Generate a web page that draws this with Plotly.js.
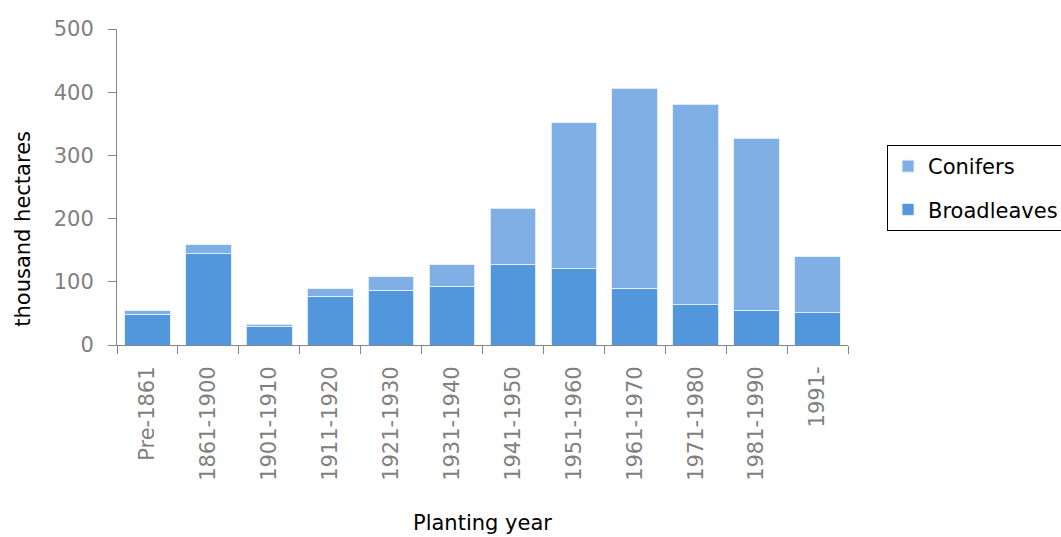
<!DOCTYPE html>
<html>
<head>
<meta charset="utf-8">
<script src="https://cdn.plot.ly/plotly-3.0.1.min.js"></script>
<style>
  html, body { margin: 0; padding: 0; background: #fff; }
  #chart { width: 1061px; height: 537px; }
</style>
</head>
<body>
<div id="chart"></div>
<script>
// Planting periods
const periods = ['Pre-1861', '1861-1900', '1901-1910', '1911-1920', '1921-1930', '1931-1940',
                 '1941-1950', '1951-1960', '1961-1970', '1971-1980', '1981-1990', '1991-'];
// Area in thousand hectares
const broadleaves = [49, 144, 30, 77, 87, 93, 128, 121, 90, 64, 55, 51];
const conifers    = [5, 15, 3, 12, 21, 34, 88, 231, 316, 317, 272, 89];
const yTicks = [0, 100, 200, 300, 400, 500];

const FONT = 'DejaVu Sans, Liberation Sans, Arial, sans-serif';
const barLine = { color: 'rgba(230,240,252,0.9)', width: 1 };

const traces = [
  { type: 'bar', name: 'Broadleaves', legendgroup: 'b', legendrank: 2, x: periods, y: broadleaves,
    marker: { color: '#5296dc', line: barLine } },
  { type: 'bar', name: 'Conifers', legendgroup: 'c', legendrank: 1, x: periods, y: conifers,
    marker: { color: '#7fafe4', line: barLine } }
];

const layout = {
  width: 1061, height: 537,
  margin: { l: 117, r: 213, t: 29, b: 192, autoexpand: false },
  paper_bgcolor: '#fff', plot_bgcolor: '#fff',
  barmode: 'stack', bargap: 0.25,
  font: { family: FONT, size: 21, color: '#000' },
  showlegend: true,
  legend: {
    x: 1.0534, xanchor: 'left', y: 0.633, yanchor: 'top',
    bordercolor: '#000', borderwidth: 1, bgcolor: '#fff',
    font: { family: FONT, size: 21, color: '#000' },
    traceorder: 'grouped', tracegroupgap: 13
  },
  xaxis: {
    type: 'category', tickangle: -90, tickson: 'boundaries',
    ticks: 'outside', ticklen: 8, tickcolor: '#868686', tickwidth: 1,
    ticklabelstandoff: 12,
    showline: true, linecolor: '#868686', linewidth: 1,
    showgrid: false, zeroline: false,
    tickfont: { family: FONT, size: 21, color: '#808080' }
  },
  yaxis: {
    range: [0, 500], tickvals: yTicks, ticktext: yTicks.map(String),
    ticks: 'outside', ticklen: 8, tickcolor: '#868686', tickwidth: 1,
    ticklabelstandoff: 10,
    showline: true, linecolor: '#868686', linewidth: 1,
    showgrid: false, zeroline: false,
    tickfont: { family: FONT, size: 21, color: '#808080' }
  },
  annotations: [
    { text: 'thousand hectares', textangle: -90, showarrow: false,
      xref: 'paper', yref: 'paper', x: -0.129, y: 0.367,
      xanchor: 'center', yanchor: 'middle',
      font: { family: FONT, size: 21, color: '#000' } },
    { text: 'Planting year', showarrow: false,
      xref: 'paper', yref: 'paper', x: 0.5, y: -0.563,
      xanchor: 'center', yanchor: 'middle',
      font: { family: FONT, size: 21, color: '#000' } }
  ]
};

Plotly.newPlot('chart', traces, layout, { displayModeBar: false, staticPlot: true });
</script>
</body>
</html>
